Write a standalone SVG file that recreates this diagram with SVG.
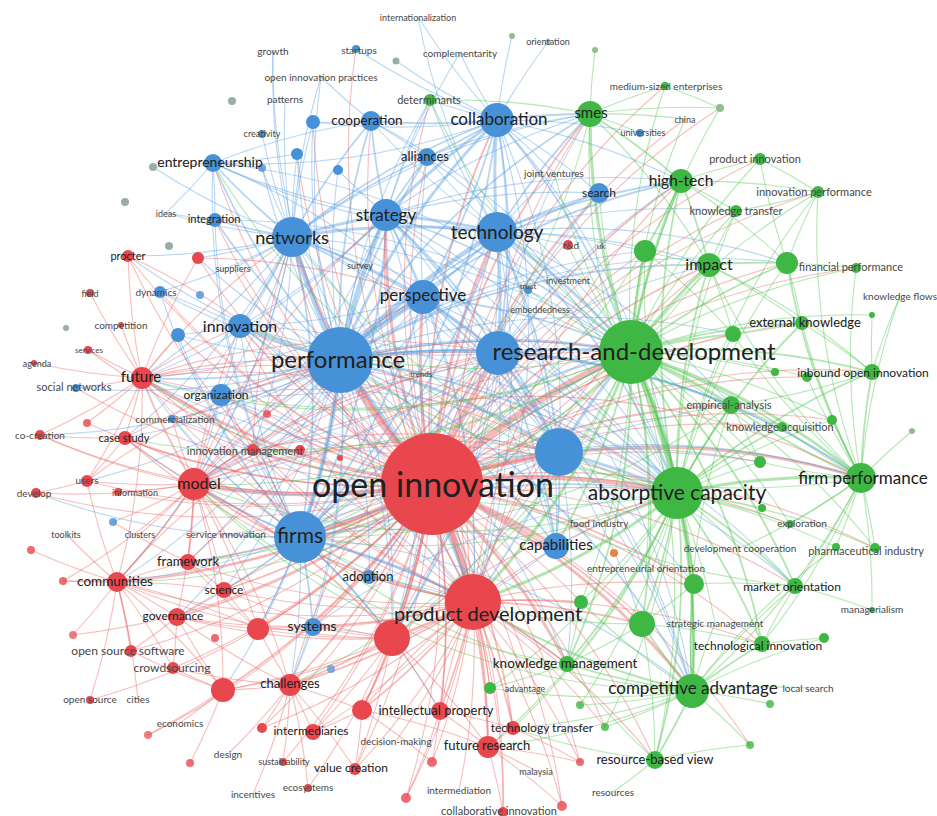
<svg xmlns="http://www.w3.org/2000/svg" width="937" height="816" viewBox="0 0 937 816">
<style>
.e path{fill:none;stroke-linecap:round}
.er path{stroke:#ec6262}
.eb path{stroke:#5a9fe0}
.eg path{stroke:#4fc44f}
.w5 path{stroke-width:6.5;stroke-opacity:.45}
.w4 path{stroke-width:4.5;stroke-opacity:.45}
.w3 path{stroke-width:3;stroke-opacity:.44}
.w2 path{stroke-width:1.8;stroke-opacity:.44}
.w1 path{stroke-width:1.1;stroke-opacity:.42}
.r{fill:#e8474e}
.b{fill:#4791d8}
.g{fill:#3fb744}
.o{fill:#e8843e}
.gy{fill:#9cabab}
.gg{fill:#8fbf8f}
text{font-family:Lato,"Open Sans","Liberation Sans",sans-serif;text-anchor:middle;fill:#202020}
.s{fill:#474747}
</style>
<rect width="937" height="816" fill="#ffffff"/>

<!-- links between keywords, drawn as gentle arcs, grouped by source colour and weight -->
<g id="connectors" class="e">
<!-- from open innovation -->
<g class="er w5"><path d="M432 484A700 700 0 0 1 340 360"/><path d="M432 484A700 700 0 0 1 473 602"/><path d="M432 484A700 700 0 0 1 631 352"/></g>
<g class="er w4"><path d="M432 484A700 700 0 0 1 300 537"/><path d="M432 484A700 700 0 0 1 677 493"/><path d="M432 484A700 700 0 0 1 498 353"/><path d="M432 484A700 700 0 0 1 559 452"/><path d="M432 484A700 700 0 0 1 194 484"/></g>
<g class="er w3"><path d="M432 484A700 700 0 0 1 292 237"/><path d="M432 484A700 700 0 0 1 386 215"/><path d="M432 484A700 700 0 0 1 497 232"/><path d="M432 484A700 700 0 0 1 423 297"/><path d="M432 484A700 700 0 0 1 392 638"/><path d="M432 484A700 700 0 0 1 556 546"/><path d="M432 484A700 700 0 0 1 142 378"/><path d="M432 484A700 700 0 0 1 692 691"/><path d="M432 484A700 700 0 0 1 567 664"/><path d="M432 484A700 700 0 0 1 861 478"/></g>
<g class="er w2"><path d="M432 484A700 700 0 0 1 497 120"/><path d="M432 484A700 700 0 0 1 240 326"/><path d="M432 484A700 700 0 0 1 221 395"/><path d="M432 484A700 700 0 0 1 681 181"/><path d="M432 484A700 700 0 0 1 709 265"/><path d="M432 484A700 700 0 0 1 590 114"/><path d="M432 484A700 700 0 0 1 290 685"/><path d="M432 484A700 700 0 0 1 440 711"/><path d="M432 484A700 700 0 0 1 362 710"/><path d="M432 484A700 700 0 0 1 488 747"/><path d="M432 484A700 700 0 0 1 513 728"/><path d="M432 484A700 700 0 0 1 117 582"/><path d="M432 484A700 700 0 0 1 177 617"/><path d="M432 484A700 700 0 0 1 224 590"/><path d="M432 484A700 700 0 0 1 188 562"/><path d="M432 484A700 700 0 0 1 258 629"/><path d="M432 484A700 700 0 0 1 223 690"/><path d="M432 484A700 700 0 0 1 313 627"/><path d="M432 484A700 700 0 0 1 369 577"/><path d="M432 484A700 700 0 0 1 642 624"/><path d="M432 484A700 700 0 0 1 694 584"/><path d="M432 484A700 700 0 0 1 731 405"/><path d="M432 484A700 700 0 0 1 253 450"/><path d="M432 484A700 700 0 0 1 125 438"/></g>
<g class="er w1"><path d="M432 484A700 700 0 0 1 87 481"/><path d="M432 484A700 700 0 0 1 40 435"/><path d="M432 484A700 700 0 0 1 36 493"/><path d="M432 484A700 700 0 0 1 128 256"/><path d="M432 484A700 700 0 0 1 198 258"/><path d="M432 484A700 700 0 0 1 213 163"/><path d="M432 484A700 700 0 0 1 371 121"/><path d="M432 484A700 700 0 0 1 427 157"/><path d="M432 484A700 700 0 0 1 599 193"/><path d="M432 484A700 700 0 0 1 872 372"/><path d="M432 484A700 700 0 0 1 802 323"/><path d="M432 484A700 700 0 0 1 795 586"/><path d="M432 484A700 700 0 0 1 655 760"/><path d="M432 484A700 700 0 0 1 762 644"/><path d="M432 484A700 700 0 0 1 355 769"/><path d="M432 484A700 700 0 0 1 313 732"/><path d="M432 484A700 700 0 0 1 173 668"/><path d="M432 484A700 700 0 0 1 131 651"/><path d="M432 484A700 700 0 0 1 503 812"/><path d="M432 484A700 700 0 0 1 562 806"/><path d="M432 484A700 700 0 0 1 406 798"/><path d="M432 484A700 700 0 0 1 432 762"/><path d="M432 484A700 700 0 0 1 215 220"/><path d="M432 484A700 700 0 0 1 160 292"/><path d="M432 484A700 700 0 0 1 178 335"/><path d="M432 484A700 700 0 0 1 787 263"/><path d="M432 484A700 700 0 0 1 645 251"/><path d="M432 484A700 700 0 0 1 733 334"/><path d="M432 484A700 700 0 0 1 782 427"/><path d="M432 484A700 700 0 0 1 760 462"/><path d="M432 484A700 700 0 0 1 581 602"/><path d="M432 484A700 700 0 0 1 118 492"/><path d="M432 484A700 700 0 0 1 88 350"/><path d="M432 484A700 700 0 0 1 76 388"/><path d="M432 484A700 700 0 0 1 172 419"/><path d="M432 484A700 700 0 0 1 313 122"/><path d="M432 484A700 700 0 0 1 297 154"/><path d="M432 484A700 700 0 0 1 87 423"/><path d="M432 484A700 700 0 0 1 63 581"/><path d="M432 484A700 700 0 0 1 73 635"/><path d="M432 484A700 700 0 0 1 90 700"/><path d="M432 484A700 700 0 0 1 148 735"/><path d="M432 484A700 700 0 0 1 262 728"/><path d="M432 484A700 700 0 0 1 283 762"/><path d="M432 484A700 700 0 0 1 308 788"/><path d="M432 484A700 700 0 0 1 580 762"/><path d="M432 484A700 700 0 0 1 490 688"/><path d="M432 484A700 700 0 0 1 605 727"/><path d="M432 484A700 700 0 0 1 750 745"/><path d="M432 484A700 700 0 0 1 875 548"/><path d="M432 484A700 700 0 0 1 790 524"/><path d="M432 484A700 700 0 0 1 832 420"/><path d="M432 484A700 700 0 0 1 807 377"/><path d="M432 484A700 700 0 0 1 760 159"/><path d="M432 484A700 700 0 0 1 736 211"/><path d="M432 484A700 700 0 0 1 818 192"/><path d="M432 484A700 700 0 0 1 720 108"/><path d="M432 484A700 700 0 0 1 665 86"/><path d="M432 484A700 700 0 0 1 430 100"/><path d="M432 484A700 700 0 0 1 356 49"/><path d="M432 484A700 700 0 0 1 856 268"/><path d="M432 484A700 700 0 0 1 233 268"/><path d="M432 484A700 700 0 0 1 421 373"/><path d="M432 484A700 700 0 0 1 685 119"/><path d="M432 484A700 700 0 0 1 599 523"/><path d="M432 484A700 700 0 0 1 525 688"/><path d="M432 484A700 700 0 0 1 226 534"/><path d="M432 484A700 700 0 0 1 267 414"/></g>

<!-- from performance -->
<g class="eb w4"><path d="M340 360A700 700 0 0 1 292 237"/><path d="M340 360A700 700 0 0 1 386 215"/><path d="M340 360A700 700 0 0 1 497 232"/><path d="M340 360A700 700 0 0 1 423 297"/><path d="M340 360A700 700 0 0 1 300 537"/></g>
<g class="eb w3"><path d="M340 360A700 700 0 0 1 497 120"/><path d="M340 360A700 700 0 0 1 498 353"/><path d="M340 360A700 700 0 0 1 631 352"/><path d="M340 360A700 700 0 0 1 559 452"/><path d="M340 360A700 700 0 0 1 473 602"/><path d="M340 360A700 700 0 0 1 240 326"/></g>
<g class="eb w2"><path d="M340 360A700 700 0 0 1 221 395"/><path d="M340 360A700 700 0 0 1 371 121"/><path d="M340 360A700 700 0 0 1 427 157"/><path d="M340 360A700 700 0 0 1 213 163"/><path d="M340 360A700 700 0 0 1 194 484"/><path d="M340 360A700 700 0 0 1 142 378"/><path d="M340 360A700 700 0 0 1 677 493"/><path d="M340 360A700 700 0 0 1 556 546"/><path d="M340 360A700 700 0 0 1 215 220"/><path d="M340 360A700 700 0 0 1 590 114"/><path d="M340 360A700 700 0 0 1 681 181"/><path d="M340 360A700 700 0 0 1 709 265"/><path d="M340 360A700 700 0 0 1 599 193"/><path d="M340 360A700 700 0 0 1 861 478"/><path d="M340 360A700 700 0 0 1 692 691"/></g>
<g class="eb w1"><path d="M340 360A700 700 0 0 1 297 154"/><path d="M340 360A700 700 0 0 1 313 122"/><path d="M340 360A700 700 0 0 1 338 170"/><path d="M340 360A700 700 0 0 1 160 292"/><path d="M340 360A700 700 0 0 1 128 256"/><path d="M340 360A700 700 0 0 1 198 258"/><path d="M340 360A700 700 0 0 1 313 627"/><path d="M340 360A700 700 0 0 1 369 577"/><path d="M340 360A700 700 0 0 1 178 335"/><path d="M340 360A700 700 0 0 1 172 419"/><path d="M340 360A700 700 0 0 1 76 388"/><path d="M340 360A700 700 0 0 1 188 562"/><path d="M340 360A700 700 0 0 1 224 590"/><path d="M340 360A700 700 0 0 1 567 664"/><path d="M340 360A700 700 0 0 1 731 405"/><path d="M340 360A700 700 0 0 1 645 251"/><path d="M340 360A700 700 0 0 1 787 263"/><path d="M340 360A700 700 0 0 1 253 450"/><path d="M340 360A700 700 0 0 1 125 438"/><path d="M340 360A700 700 0 0 1 262 168"/><path d="M340 360A700 700 0 0 1 392 638"/><path d="M340 360A700 700 0 0 1 430 100"/><path d="M340 360A700 700 0 0 1 733 334"/><path d="M340 360A700 700 0 0 1 273 51"/><path d="M340 360A700 700 0 0 1 321 77"/><path d="M340 360A700 700 0 0 1 360 265"/><path d="M340 360A700 700 0 0 1 421 373"/><path d="M340 360A700 700 0 0 1 795 586"/><path d="M340 360A700 700 0 0 1 117 582"/><path d="M340 360A700 700 0 0 1 177 617"/><path d="M340 360A700 700 0 0 1 258 629"/><path d="M340 360A700 700 0 0 1 223 690"/><path d="M340 360A700 700 0 0 1 290 685"/><path d="M340 360A700 700 0 0 1 87 481"/><path d="M340 360A700 700 0 0 1 40 435"/><path d="M340 360A700 700 0 0 1 267 414"/></g>

<!-- from networks, strategy, technology, collaboration -->
<g class="eb w3"><path d="M292 237A700 700 0 0 1 386 215"/><path d="M292 237A700 700 0 0 1 497 232"/><path d="M386 215A700 700 0 0 1 497 232"/><path d="M386 215A700 700 0 0 1 497 120"/><path d="M497 232A700 700 0 0 1 497 120"/><path d="M497 232A700 700 0 0 1 498 353"/><path d="M497 232A700 700 0 0 1 631 352"/></g>
<g class="eb w2"><path d="M292 237A700 700 0 0 1 497 120"/><path d="M292 237A700 700 0 0 1 423 297"/><path d="M292 237A700 700 0 0 1 213 163"/><path d="M292 237A700 700 0 0 1 371 121"/><path d="M292 237A700 700 0 0 1 427 157"/><path d="M292 237A700 700 0 0 1 498 353"/><path d="M292 237A700 700 0 0 1 300 537"/><path d="M292 237A700 700 0 0 1 240 326"/><path d="M292 237A700 700 0 0 1 215 220"/><path d="M386 215A700 700 0 0 1 423 297"/><path d="M386 215A700 700 0 0 1 427 157"/><path d="M386 215A700 700 0 0 1 371 121"/><path d="M386 215A700 700 0 0 1 498 353"/><path d="M386 215A700 700 0 0 1 631 352"/><path d="M386 215A700 700 0 0 1 300 537"/><path d="M386 215A700 700 0 0 1 559 452"/><path d="M497 232A700 700 0 0 1 423 297"/><path d="M497 232A700 700 0 0 1 590 114"/><path d="M497 232A700 700 0 0 1 599 193"/><path d="M497 232A700 700 0 0 1 681 181"/><path d="M497 232A700 700 0 0 1 559 452"/><path d="M497 232A700 700 0 0 1 677 493"/><path d="M497 232A700 700 0 0 1 300 537"/><path d="M497 120A700 700 0 0 1 590 114"/><path d="M497 120A700 700 0 0 1 371 121"/><path d="M497 120A700 700 0 0 1 427 157"/><path d="M497 120A700 700 0 0 1 498 353"/><path d="M497 120A700 700 0 0 1 631 352"/><path d="M497 120A700 700 0 0 1 423 297"/><path d="M497 120A700 700 0 0 1 300 537"/></g>
<g class="eb w1"><path d="M292 237A700 700 0 0 1 297 154"/><path d="M292 237A700 700 0 0 1 262 168"/><path d="M292 237A700 700 0 0 1 262 134"/><path d="M292 237A700 700 0 0 1 194 484"/><path d="M292 237A700 700 0 0 1 631 352"/><path d="M292 237A700 700 0 0 1 559 452"/><path d="M292 237A700 700 0 0 1 128 256"/><path d="M292 237A700 700 0 0 1 198 258"/><path d="M292 237A700 700 0 0 1 221 395"/><path d="M292 237A700 700 0 0 1 160 292"/><path d="M292 237A700 700 0 0 1 153 167"/><path d="M292 237A700 700 0 0 1 313 122"/><path d="M292 237A700 700 0 0 1 590 114"/><path d="M292 237A700 700 0 0 1 142 378"/><path d="M292 237A700 700 0 0 1 273 51"/><path d="M292 237A700 700 0 0 1 321 77"/><path d="M292 237A700 700 0 0 1 285 99"/><path d="M292 237A700 700 0 0 1 166 213"/><path d="M292 237A700 700 0 0 1 233 268"/><path d="M292 237A700 700 0 0 1 677 493"/><path d="M292 237A700 700 0 0 1 692 691"/><path d="M292 237A700 700 0 0 1 473 602"/><path d="M292 237A700 700 0 0 1 392 638"/><path d="M292 237A700 700 0 0 1 125 438"/><path d="M292 237A700 700 0 0 1 253 450"/><path d="M292 237A700 700 0 0 1 117 582"/><path d="M292 237A700 700 0 0 1 172 419"/><path d="M386 215A700 700 0 0 1 599 193"/><path d="M386 215A700 700 0 0 1 590 114"/><path d="M386 215A700 700 0 0 1 338 170"/><path d="M386 215A700 700 0 0 1 213 163"/><path d="M386 215A700 700 0 0 1 240 326"/><path d="M386 215A700 700 0 0 1 677 493"/><path d="M386 215A700 700 0 0 1 681 181"/><path d="M386 215A700 700 0 0 1 430 100"/><path d="M386 215A700 700 0 0 1 556 546"/><path d="M386 215A700 700 0 0 1 460 53"/><path d="M386 215A700 700 0 0 1 360 265"/><path d="M386 215A700 700 0 0 1 473 602"/><path d="M386 215A700 700 0 0 1 692 691"/><path d="M386 215A700 700 0 0 1 392 638"/><path d="M386 215A700 700 0 0 1 194 484"/><path d="M386 215A700 700 0 0 1 142 378"/><path d="M497 232A700 700 0 0 1 427 157"/><path d="M497 232A700 700 0 0 1 430 100"/><path d="M497 232A700 700 0 0 1 709 265"/><path d="M497 232A700 700 0 0 1 528 290"/><path d="M497 232A700 700 0 0 1 645 251"/><path d="M497 232A700 700 0 0 1 568 245"/><path d="M497 232A700 700 0 0 1 371 121"/><path d="M497 232A700 700 0 0 1 213 163"/><path d="M497 232A700 700 0 0 1 556 546"/><path d="M497 232A700 700 0 0 1 736 211"/><path d="M497 232A700 700 0 0 1 473 602"/><path d="M497 232A700 700 0 0 1 787 263"/><path d="M497 232A700 700 0 0 1 731 405"/><path d="M497 232A700 700 0 0 1 418 17"/><path d="M497 232A700 700 0 0 1 554 173"/><path d="M497 232A700 700 0 0 1 568 280"/><path d="M497 232A700 700 0 0 1 392 638"/><path d="M497 232A700 700 0 0 1 194 484"/><path d="M497 120A700 700 0 0 1 430 100"/><path d="M497 120A700 700 0 0 1 559 452"/><path d="M497 120A700 700 0 0 1 599 193"/><path d="M497 120A700 700 0 0 1 213 163"/><path d="M497 120A700 700 0 0 1 681 181"/><path d="M497 120A700 700 0 0 1 640 133"/><path d="M497 120A700 700 0 0 1 512 36"/><path d="M497 120A700 700 0 0 1 677 493"/><path d="M497 120A700 700 0 0 1 356 49"/><path d="M497 120A700 700 0 0 1 396 61"/><path d="M497 120A700 700 0 0 1 313 122"/><path d="M497 120A700 700 0 0 1 548 42"/><path d="M497 120A700 700 0 0 1 460 53"/><path d="M497 120A700 700 0 0 1 418 17"/><path d="M497 120A700 700 0 0 1 554 173"/><path d="M497 120A700 700 0 0 1 473 602"/><path d="M497 120A700 700 0 0 1 392 638"/></g>

<!-- from perspective and the unlabelled blue hubs -->
<g class="eb w3"><path d="M498 353A700 700 0 0 1 631 352"/><path d="M498 353A700 700 0 0 1 559 452"/><path d="M559 452A700 700 0 0 1 631 352"/><path d="M559 452A700 700 0 0 1 677 493"/><path d="M300 537A700 700 0 0 1 473 602"/></g>
<g class="eb w2"><path d="M423 297A700 700 0 0 1 498 353"/><path d="M423 297A700 700 0 0 1 559 452"/><path d="M423 297A700 700 0 0 1 300 537"/><path d="M423 297A700 700 0 0 1 631 352"/><path d="M498 353A700 700 0 0 1 300 537"/><path d="M498 353A700 700 0 0 1 677 493"/><path d="M498 353A700 700 0 0 1 556 546"/><path d="M559 452A700 700 0 0 1 300 537"/><path d="M559 452A700 700 0 0 1 473 602"/><path d="M559 452A700 700 0 0 1 556 546"/><path d="M300 537A700 700 0 0 1 392 638"/><path d="M300 537A700 700 0 0 1 194 484"/><path d="M300 537A700 700 0 0 1 313 627"/><path d="M300 537A700 700 0 0 1 677 493"/><path d="M300 537A700 700 0 0 1 631 352"/></g>
<g class="eb w1"><path d="M423 297A700 700 0 0 1 677 493"/><path d="M423 297A700 700 0 0 1 556 546"/><path d="M423 297A700 700 0 0 1 427 157"/><path d="M423 297A700 700 0 0 1 240 326"/><path d="M423 297A700 700 0 0 1 221 395"/><path d="M423 297A700 700 0 0 1 194 484"/><path d="M423 297A700 700 0 0 1 473 602"/><path d="M423 297A700 700 0 0 1 692 691"/><path d="M423 297A700 700 0 0 1 392 638"/><path d="M423 297A700 700 0 0 1 142 378"/><path d="M498 353A700 700 0 0 1 599 193"/><path d="M498 353A700 700 0 0 1 590 114"/><path d="M498 353A700 700 0 0 1 473 602"/><path d="M498 353A700 700 0 0 1 681 181"/><path d="M498 353A700 700 0 0 1 709 265"/><path d="M498 353A700 700 0 0 1 731 405"/><path d="M498 353A700 700 0 0 1 861 478"/><path d="M498 353A700 700 0 0 1 540 309"/><path d="M498 353A700 700 0 0 1 392 638"/><path d="M498 353A700 700 0 0 1 194 484"/><path d="M498 353A700 700 0 0 1 253 450"/><path d="M498 353A700 700 0 0 1 240 326"/><path d="M498 353A700 700 0 0 1 221 395"/><path d="M559 452A700 700 0 0 1 861 478"/><path d="M559 452A700 700 0 0 1 692 691"/><path d="M559 452A700 700 0 0 1 694 584"/><path d="M559 452A700 700 0 0 1 642 624"/><path d="M559 452A700 700 0 0 1 567 664"/><path d="M559 452A700 700 0 0 1 731 405"/><path d="M559 452A700 700 0 0 1 760 462"/><path d="M559 452A700 700 0 0 1 795 586"/><path d="M559 452A700 700 0 0 1 392 638"/><path d="M559 452A700 700 0 0 1 194 484"/><path d="M559 452A700 700 0 0 1 142 378"/><path d="M559 452A700 700 0 0 1 240 326"/><path d="M559 452A700 700 0 0 1 221 395"/><path d="M300 537A700 700 0 0 1 369 577"/><path d="M300 537A700 700 0 0 1 224 590"/><path d="M300 537A700 700 0 0 1 188 562"/><path d="M300 537A700 700 0 0 1 221 395"/><path d="M300 537A700 700 0 0 1 240 326"/><path d="M300 537A700 700 0 0 1 556 546"/><path d="M300 537A700 700 0 0 1 290 685"/><path d="M300 537A700 700 0 0 1 258 629"/><path d="M300 537A700 700 0 0 1 177 617"/><path d="M300 537A700 700 0 0 1 117 582"/><path d="M300 537A700 700 0 0 1 692 691"/><path d="M300 537A700 700 0 0 1 567 664"/><path d="M300 537A700 700 0 0 1 440 711"/><path d="M300 537A700 700 0 0 1 861 478"/><path d="M300 537A700 700 0 0 1 226 534"/><path d="M300 537A700 700 0 0 1 142 378"/><path d="M300 537A700 700 0 0 1 125 438"/><path d="M300 537A700 700 0 0 1 253 450"/><path d="M300 537A700 700 0 0 1 36 493"/><path d="M300 537A700 700 0 0 1 178 335"/><path d="M300 537A700 700 0 0 1 172 419"/><path d="M300 537A700 700 0 0 1 160 292"/><path d="M300 537A700 700 0 0 1 215 220"/><path d="M300 537A700 700 0 0 1 213 163"/><path d="M213 163A700 700 0 0 1 215 220"/><path d="M213 163A700 700 0 0 1 153 167"/><path d="M213 163A700 700 0 0 1 262 168"/><path d="M213 163A700 700 0 0 1 371 121"/><path d="M213 163A700 700 0 0 1 166 213"/><path d="M213 163A700 700 0 0 1 631 352"/><path d="M213 163A700 700 0 0 1 423 297"/><path d="M215 220A700 700 0 0 1 166 213"/><path d="M215 220A700 700 0 0 1 631 352"/><path d="M240 326A700 700 0 0 1 178 335"/><path d="M240 326A700 700 0 0 1 221 395"/><path d="M240 326A700 700 0 0 1 677 493"/><path d="M240 326A700 700 0 0 1 473 602"/><path d="M221 395A700 700 0 0 1 194 484"/><path d="M221 395A700 700 0 0 1 142 378"/><path d="M221 395A700 700 0 0 1 677 493"/><path d="M221 395A700 700 0 0 1 473 602"/><path d="M556 546A700 700 0 0 1 677 493"/><path d="M556 546A700 700 0 0 1 473 602"/><path d="M313 627A700 700 0 0 1 392 638"/><path d="M313 627A700 700 0 0 1 677 493"/><path d="M369 577A700 700 0 0 1 473 602"/><path d="M369 577A700 700 0 0 1 631 352"/><path d="M371 121A700 700 0 0 1 427 157"/><path d="M371 121A700 700 0 0 1 313 122"/><path d="M371 121A700 700 0 0 1 321 77"/><path d="M371 121A700 700 0 0 1 631 352"/><path d="M297 154A700 700 0 0 1 213 163"/><path d="M427 157A700 700 0 0 1 590 114"/><path d="M427 157A700 700 0 0 1 677 493"/><path d="M160 292A700 700 0 0 1 240 326"/><path d="M313 627A700 700 0 0 1 290 685"/><path d="M172 419A700 700 0 0 1 473 602"/></g>

<!-- from research-and-development -->
<g class="eg w5"><path d="M631 352A700 700 0 0 1 677 493"/></g>
<g class="eg w3"><path d="M631 352A700 700 0 0 1 681 181"/><path d="M631 352A700 700 0 0 1 709 265"/><path d="M631 352A700 700 0 0 1 590 114"/><path d="M631 352A700 700 0 0 1 645 251"/><path d="M631 352A700 700 0 0 1 731 405"/><path d="M631 352A700 700 0 0 1 861 478"/><path d="M631 352A700 700 0 0 1 473 602"/></g>
<g class="eg w2"><path d="M631 352A700 700 0 0 1 787 263"/><path d="M631 352A700 700 0 0 1 802 323"/><path d="M631 352A700 700 0 0 1 733 334"/><path d="M631 352A700 700 0 0 1 872 372"/><path d="M631 352A700 700 0 0 1 782 427"/><path d="M631 352A700 700 0 0 1 694 584"/><path d="M631 352A700 700 0 0 1 642 624"/><path d="M631 352A700 700 0 0 1 692 691"/><path d="M631 352A700 700 0 0 1 795 586"/><path d="M631 352A700 700 0 0 1 762 644"/><path d="M631 352A700 700 0 0 1 567 664"/><path d="M631 352A700 700 0 0 1 556 546"/></g>
<g class="eg w1"><path d="M631 352A700 700 0 0 1 760 462"/><path d="M631 352A700 700 0 0 1 760 159"/><path d="M631 352A700 700 0 0 1 818 192"/><path d="M631 352A700 700 0 0 1 736 211"/><path d="M631 352A700 700 0 0 1 581 602"/><path d="M631 352A700 700 0 0 1 790 524"/><path d="M631 352A700 700 0 0 1 875 548"/><path d="M631 352A700 700 0 0 1 599 193"/><path d="M631 352A700 700 0 0 1 430 100"/><path d="M631 352A700 700 0 0 1 832 420"/><path d="M631 352A700 700 0 0 1 807 377"/><path d="M631 352A700 700 0 0 1 872 315"/><path d="M631 352A700 700 0 0 1 665 86"/><path d="M631 352A700 700 0 0 1 720 108"/><path d="M631 352A700 700 0 0 1 568 245"/><path d="M631 352A700 700 0 0 1 528 290"/><path d="M631 352A700 700 0 0 1 194 484"/><path d="M631 352A700 700 0 0 1 142 378"/><path d="M631 352A700 700 0 0 1 240 326"/><path d="M631 352A700 700 0 0 1 221 395"/><path d="M631 352A700 700 0 0 1 392 638"/><path d="M631 352A700 700 0 0 1 655 760"/><path d="M631 352A700 700 0 0 1 856 268"/><path d="M631 352A700 700 0 0 1 775 372"/><path d="M631 352A700 700 0 0 1 554 173"/><path d="M631 352A700 700 0 0 1 568 280"/><path d="M631 352A700 700 0 0 1 540 309"/><path d="M631 352A700 700 0 0 1 685 119"/><path d="M631 352A700 700 0 0 1 646 568"/><path d="M631 352A700 700 0 0 1 117 582"/><path d="M631 352A700 700 0 0 1 188 562"/><path d="M631 352A700 700 0 0 1 290 685"/><path d="M631 352A700 700 0 0 1 253 450"/><path d="M631 352A700 700 0 0 1 125 438"/></g>

<!-- from absorptive capacity, firm performance, competitive advantage and the green periphery -->
<g class="eg w3"><path d="M677 493A700 700 0 0 1 861 478"/><path d="M677 493A700 700 0 0 1 692 691"/><path d="M677 493A700 700 0 0 1 473 602"/></g>
<g class="eg w2"><path d="M677 493A700 700 0 0 1 694 584"/><path d="M677 493A700 700 0 0 1 642 624"/><path d="M677 493A700 700 0 0 1 731 405"/><path d="M677 493A700 700 0 0 1 782 427"/><path d="M677 493A700 700 0 0 1 802 323"/><path d="M677 493A700 700 0 0 1 872 372"/><path d="M677 493A700 700 0 0 1 709 265"/><path d="M677 493A700 700 0 0 1 681 181"/><path d="M677 493A700 700 0 0 1 795 586"/><path d="M677 493A700 700 0 0 1 762 644"/><path d="M677 493A700 700 0 0 1 567 664"/><path d="M677 493A700 700 0 0 1 655 760"/><path d="M861 478A700 700 0 0 1 872 372"/><path d="M861 478A700 700 0 0 1 731 405"/><path d="M861 478A700 700 0 0 1 787 263"/><path d="M692 691A700 700 0 0 1 642 624"/><path d="M692 691A700 700 0 0 1 694 584"/><path d="M692 691A700 700 0 0 1 655 760"/><path d="M692 691A700 700 0 0 1 762 644"/><path d="M692 691A700 700 0 0 1 567 664"/><path d="M692 691A700 700 0 0 1 473 602"/><path d="M590 114A700 700 0 0 1 681 181"/><path d="M681 181A700 700 0 0 1 709 265"/><path d="M709 265A700 700 0 0 1 787 263"/></g>
<g class="eg w1"><path d="M677 493A700 700 0 0 1 790 524"/><path d="M677 493A700 700 0 0 1 875 548"/><path d="M677 493A700 700 0 0 1 760 462"/><path d="M677 493A700 700 0 0 1 762 508"/><path d="M677 493A700 700 0 0 1 581 602"/><path d="M677 493A700 700 0 0 1 787 263"/><path d="M677 493A700 700 0 0 1 645 251"/><path d="M677 493A700 700 0 0 1 590 114"/><path d="M677 493A700 700 0 0 1 733 334"/><path d="M677 493A700 700 0 0 1 832 420"/><path d="M677 493A700 700 0 0 1 490 688"/><path d="M677 493A700 700 0 0 1 513 728"/><path d="M677 493A700 700 0 0 1 488 747"/><path d="M677 493A700 700 0 0 1 605 727"/><path d="M677 493A700 700 0 0 1 580 705"/><path d="M677 493A700 700 0 0 1 736 211"/><path d="M677 493A700 700 0 0 1 818 192"/><path d="M677 493A700 700 0 0 1 836 547"/><path d="M677 493A700 700 0 0 1 300 537"/><path d="M677 493A700 700 0 0 1 599 523"/><path d="M677 493A700 700 0 0 1 740 548"/><path d="M677 493A700 700 0 0 1 646 568"/><path d="M677 493A700 700 0 0 1 715 623"/><path d="M677 493A700 700 0 0 1 194 484"/><path d="M677 493A700 700 0 0 1 292 237"/><path d="M677 493A700 700 0 0 1 142 378"/><path d="M677 493A700 700 0 0 1 213 163"/><path d="M861 478A700 700 0 0 1 832 420"/><path d="M861 478A700 700 0 0 1 912 431"/><path d="M861 478A700 700 0 0 1 802 323"/><path d="M861 478A700 700 0 0 1 795 586"/><path d="M861 478A700 700 0 0 1 875 548"/><path d="M861 478A700 700 0 0 1 762 644"/><path d="M861 478A700 700 0 0 1 692 691"/><path d="M861 478A700 700 0 0 1 760 462"/><path d="M861 478A700 700 0 0 1 790 524"/><path d="M861 478A700 700 0 0 1 709 265"/><path d="M861 478A700 700 0 0 1 807 377"/><path d="M861 478A700 700 0 0 1 818 192"/><path d="M861 478A700 700 0 0 1 782 427"/><path d="M861 478A700 700 0 0 1 872 610"/><path d="M861 478A700 700 0 0 1 836 547"/><path d="M861 478A700 700 0 0 1 733 334"/><path d="M861 478A700 700 0 0 1 856 268"/><path d="M861 478A700 700 0 0 1 900 296"/><path d="M861 478A700 700 0 0 1 740 548"/><path d="M861 478A700 700 0 0 1 340 360"/><path d="M692 691A700 700 0 0 1 795 586"/><path d="M692 691A700 700 0 0 1 581 602"/><path d="M692 691A700 700 0 0 1 490 688"/><path d="M692 691A700 700 0 0 1 580 705"/><path d="M692 691A700 700 0 0 1 605 727"/><path d="M692 691A700 700 0 0 1 750 745"/><path d="M692 691A700 700 0 0 1 770 704"/><path d="M692 691A700 700 0 0 1 824 638"/><path d="M692 691A700 700 0 0 1 836 547"/><path d="M692 691A700 700 0 0 1 513 728"/><path d="M692 691A700 700 0 0 1 488 747"/><path d="M692 691A700 700 0 0 1 731 405"/><path d="M692 691A700 700 0 0 1 715 623"/><path d="M692 691A700 700 0 0 1 808 688"/><path d="M692 691A700 700 0 0 1 300 537"/><path d="M692 691A700 700 0 0 1 194 484"/><path d="M590 114A700 700 0 0 1 665 86"/><path d="M590 114A700 700 0 0 1 640 133"/><path d="M590 114A700 700 0 0 1 709 265"/><path d="M590 114A700 700 0 0 1 720 108"/><path d="M590 114A700 700 0 0 1 595 50"/><path d="M590 114A700 700 0 0 1 685 119"/><path d="M590 114A700 700 0 0 1 300 537"/><path d="M681 181A700 700 0 0 1 760 159"/><path d="M681 181A700 700 0 0 1 736 211"/><path d="M681 181A700 700 0 0 1 645 251"/><path d="M681 181A700 700 0 0 1 818 192"/><path d="M681 181A700 700 0 0 1 787 263"/><path d="M681 181A700 700 0 0 1 300 537"/><path d="M709 265A700 700 0 0 1 645 251"/><path d="M709 265A700 700 0 0 1 736 211"/><path d="M709 265A700 700 0 0 1 802 323"/><path d="M709 265A700 700 0 0 1 733 334"/><path d="M709 265A700 700 0 0 1 872 372"/><path d="M709 265A700 700 0 0 1 300 537"/><path d="M787 263A700 700 0 0 1 856 268"/><path d="M787 263A700 700 0 0 1 818 192"/><path d="M787 263A700 700 0 0 1 760 159"/><path d="M787 263A700 700 0 0 1 802 323"/><path d="M802 323A700 700 0 0 1 733 334"/><path d="M802 323A700 700 0 0 1 872 372"/><path d="M872 372A700 700 0 0 1 807 377"/><path d="M872 372A700 700 0 0 1 872 315"/><path d="M872 372A700 700 0 0 1 731 405"/><path d="M872 372A700 700 0 0 1 900 296"/><path d="M731 405A700 700 0 0 1 782 427"/><path d="M731 405A700 700 0 0 1 760 462"/><path d="M731 405A700 700 0 0 1 300 537"/><path d="M694 584A700 700 0 0 1 642 624"/><path d="M694 584A700 700 0 0 1 795 586"/><path d="M642 624A700 700 0 0 1 567 664"/><path d="M642 624A700 700 0 0 1 762 644"/><path d="M642 624A700 700 0 0 1 655 760"/><path d="M642 624A700 700 0 0 1 300 537"/><path d="M762 644A700 700 0 0 1 795 586"/><path d="M762 644A700 700 0 0 1 824 638"/><path d="M655 760A700 700 0 0 1 750 745"/><path d="M655 760A700 700 0 0 1 513 728"/><path d="M655 760A700 700 0 0 1 567 664"/><path d="M655 760A700 700 0 0 1 613 792"/><path d="M567 664A700 700 0 0 1 490 688"/><path d="M567 664A700 700 0 0 1 194 484"/><path d="M581 602A700 700 0 0 1 567 664"/><path d="M795 586A700 700 0 0 1 872 610"/><path d="M795 586A700 700 0 0 1 340 360"/><path d="M645 251A700 700 0 0 1 733 334"/><path d="M430 100A700 700 0 0 1 590 114"/><path d="M665 86A700 700 0 0 1 720 108"/><path d="M760 159A700 700 0 0 1 818 192"/><path d="M818 192A700 700 0 0 1 736 211"/></g>

<!-- from product development and the red periphery -->
<g class="er w3"><path d="M473 602A700 700 0 0 1 392 638"/></g>
<g class="er w2"><path d="M473 602A700 700 0 0 1 194 484"/><path d="M473 602A700 700 0 0 1 290 685"/><path d="M473 602A700 700 0 0 1 362 710"/><path d="M473 602A700 700 0 0 1 440 711"/><path d="M473 602A700 700 0 0 1 488 747"/><path d="M473 602A700 700 0 0 1 513 728"/><path d="M473 602A700 700 0 0 1 567 664"/><path d="M473 602A700 700 0 0 1 642 624"/><path d="M473 602A700 700 0 0 1 581 602"/><path d="M194 484A700 700 0 0 1 142 378"/><path d="M194 484A700 700 0 0 1 117 582"/><path d="M194 484A700 700 0 0 1 188 562"/><path d="M194 484A700 700 0 0 1 392 638"/><path d="M392 638A700 700 0 0 1 290 685"/><path d="M392 638A700 700 0 0 1 362 710"/><path d="M117 582A700 700 0 0 1 131 651"/></g>
<g class="er w1"><path d="M473 602A700 700 0 0 1 355 769"/><path d="M473 602A700 700 0 0 1 258 629"/><path d="M473 602A700 700 0 0 1 117 582"/><path d="M473 602A700 700 0 0 1 177 617"/><path d="M473 602A700 700 0 0 1 224 590"/><path d="M473 602A700 700 0 0 1 313 732"/><path d="M473 602A700 700 0 0 1 223 690"/><path d="M473 602A700 700 0 0 1 432 762"/><path d="M473 602A700 700 0 0 1 406 798"/><path d="M473 602A700 700 0 0 1 503 812"/><path d="M473 602A700 700 0 0 1 562 806"/><path d="M473 602A700 700 0 0 1 580 762"/><path d="M473 602A700 700 0 0 1 490 688"/><path d="M473 602A700 700 0 0 1 188 562"/><path d="M473 602A700 700 0 0 1 694 584"/><path d="M473 602A700 700 0 0 1 762 644"/><path d="M473 602A700 700 0 0 1 655 760"/><path d="M473 602A700 700 0 0 1 605 727"/><path d="M473 602A700 700 0 0 1 262 728"/><path d="M473 602A700 700 0 0 1 313 627"/><path d="M473 602A700 700 0 0 1 369 577"/><path d="M473 602A700 700 0 0 1 709 265"/><path d="M473 602A700 700 0 0 1 681 181"/><path d="M473 602A700 700 0 0 1 590 114"/><path d="M473 602A700 700 0 0 1 497 232"/><path d="M473 602A700 700 0 0 1 292 237"/><path d="M473 602A700 700 0 0 1 386 215"/><path d="M473 602A700 700 0 0 1 240 326"/><path d="M473 602A700 700 0 0 1 142 378"/><path d="M473 602A700 700 0 0 1 128 256"/><path d="M473 602A700 700 0 0 1 459 790"/><path d="M473 602A700 700 0 0 1 396 741"/><path d="M473 602A700 700 0 0 1 125 438"/><path d="M473 602A700 700 0 0 1 253 450"/><path d="M194 484A700 700 0 0 1 125 438"/><path d="M194 484A700 700 0 0 1 87 481"/><path d="M194 484A700 700 0 0 1 118 492"/><path d="M194 484A700 700 0 0 1 224 590"/><path d="M194 484A700 700 0 0 1 177 617"/><path d="M194 484A700 700 0 0 1 253 450"/><path d="M194 484A700 700 0 0 1 221 395"/><path d="M194 484A700 700 0 0 1 258 629"/><path d="M194 484A700 700 0 0 1 223 690"/><path d="M194 484A700 700 0 0 1 36 493"/><path d="M194 484A700 700 0 0 1 40 435"/><path d="M194 484A700 700 0 0 1 113 522"/><path d="M194 484A700 700 0 0 1 63 581"/><path d="M194 484A700 700 0 0 1 290 685"/><path d="M194 484A700 700 0 0 1 172 419"/><path d="M194 484A700 700 0 0 1 677 493"/><path d="M194 484A700 700 0 0 1 631 352"/><path d="M194 484A700 700 0 0 1 861 478"/><path d="M194 484A700 700 0 0 1 140 534"/><path d="M194 484A700 700 0 0 1 386 215"/><path d="M194 484A700 700 0 0 1 423 297"/><path d="M194 484A700 700 0 0 1 498 353"/><path d="M194 484A700 700 0 0 1 559 452"/><path d="M194 484A700 700 0 0 1 240 326"/><path d="M194 484A700 700 0 0 1 267 414"/><path d="M142 378A700 700 0 0 1 128 256"/><path d="M142 378A700 700 0 0 1 90 293"/><path d="M142 378A700 700 0 0 1 88 350"/><path d="M142 378A700 700 0 0 1 76 388"/><path d="M142 378A700 700 0 0 1 34 363"/><path d="M142 378A700 700 0 0 1 40 435"/><path d="M142 378A700 700 0 0 1 125 438"/><path d="M142 378A700 700 0 0 1 221 395"/><path d="M142 378A700 700 0 0 1 240 326"/><path d="M142 378A700 700 0 0 1 117 582"/><path d="M142 378A700 700 0 0 1 87 481"/><path d="M142 378A700 700 0 0 1 198 258"/><path d="M142 378A700 700 0 0 1 87 423"/><path d="M142 378A700 700 0 0 1 253 450"/><path d="M142 378A700 700 0 0 1 178 335"/><path d="M142 378A700 700 0 0 1 121 325"/><path d="M142 378A700 700 0 0 1 677 493"/><path d="M142 378A700 700 0 0 1 300 537"/><path d="M142 378A700 700 0 0 1 340 360"/><path d="M142 378A700 700 0 0 1 292 237"/><path d="M142 378A700 700 0 0 1 498 353"/><path d="M142 378A700 700 0 0 1 559 452"/><path d="M392 638A700 700 0 0 1 258 629"/><path d="M392 638A700 700 0 0 1 223 690"/><path d="M392 638A700 700 0 0 1 313 627"/><path d="M392 638A700 700 0 0 1 355 769"/><path d="M392 638A700 700 0 0 1 313 732"/><path d="M392 638A700 700 0 0 1 440 711"/><path d="M392 638A700 700 0 0 1 488 747"/><path d="M392 638A700 700 0 0 1 177 617"/><path d="M392 638A700 700 0 0 1 224 590"/><path d="M392 638A700 700 0 0 1 117 582"/><path d="M392 638A700 700 0 0 1 631 352"/><path d="M392 638A700 700 0 0 1 677 493"/><path d="M117 582A700 700 0 0 1 173 668"/><path d="M117 582A700 700 0 0 1 63 581"/><path d="M117 582A700 700 0 0 1 73 635"/><path d="M117 582A700 700 0 0 1 87 481"/><path d="M117 582A700 700 0 0 1 177 617"/><path d="M117 582A700 700 0 0 1 188 562"/><path d="M117 582A700 700 0 0 1 31 550"/><path d="M117 582A700 700 0 0 1 223 690"/><path d="M117 582A700 700 0 0 1 90 700"/><path d="M117 582A700 700 0 0 1 224 590"/><path d="M117 582A700 700 0 0 1 258 629"/><path d="M117 582A700 700 0 0 1 66 534"/><path d="M117 582A700 700 0 0 1 138 700"/><path d="M117 582A700 700 0 0 1 498 353"/><path d="M290 685A700 700 0 0 1 223 690"/><path d="M290 685A700 700 0 0 1 313 732"/><path d="M290 685A700 700 0 0 1 355 769"/><path d="M290 685A700 700 0 0 1 177 617"/><path d="M290 685A700 700 0 0 1 258 629"/><path d="M290 685A700 700 0 0 1 362 710"/><path d="M290 685A700 700 0 0 1 262 728"/><path d="M290 685A700 700 0 0 1 283 762"/><path d="M290 685A700 700 0 0 1 308 788"/><path d="M290 685A700 700 0 0 1 173 668"/><path d="M290 685A700 700 0 0 1 228 754"/><path d="M290 685A700 700 0 0 1 253 794"/><path d="M290 685A700 700 0 0 1 498 353"/><path d="M223 690A700 700 0 0 1 131 651"/><path d="M223 690A700 700 0 0 1 173 668"/><path d="M223 690A700 700 0 0 1 148 735"/><path d="M223 690A700 700 0 0 1 190 763"/><path d="M223 690A700 700 0 0 1 177 617"/><path d="M223 690A700 700 0 0 1 180 723"/><path d="M362 710A700 700 0 0 1 488 747"/><path d="M362 710A700 700 0 0 1 355 769"/><path d="M362 710A700 700 0 0 1 313 732"/><path d="M362 710A700 700 0 0 1 432 762"/><path d="M362 710A700 700 0 0 1 677 493"/><path d="M440 711A700 700 0 0 1 488 747"/><path d="M440 711A700 700 0 0 1 513 728"/><path d="M440 711A700 700 0 0 1 406 798"/><path d="M440 711A700 700 0 0 1 631 352"/><path d="M488 747A700 700 0 0 1 513 728"/><path d="M488 747A700 700 0 0 1 503 812"/><path d="M488 747A700 700 0 0 1 562 806"/><path d="M488 747A700 700 0 0 1 580 762"/><path d="M488 747A700 700 0 0 1 536 771"/><path d="M513 728A700 700 0 0 1 580 762"/><path d="M258 629A700 700 0 0 1 224 590"/><path d="M258 629A700 700 0 0 1 177 617"/><path d="M258 629A700 700 0 0 1 188 562"/><path d="M258 629A700 700 0 0 1 313 627"/><path d="M177 617A700 700 0 0 1 131 651"/><path d="M177 617A700 700 0 0 1 173 668"/><path d="M177 617A700 700 0 0 1 224 590"/><path d="M188 562A700 700 0 0 1 224 590"/><path d="M188 562A700 700 0 0 1 113 522"/><path d="M188 562A700 700 0 0 1 631 352"/><path d="M224 590A700 700 0 0 1 677 493"/><path d="M125 438A700 700 0 0 1 40 435"/><path d="M125 438A700 700 0 0 1 87 481"/><path d="M125 438A700 700 0 0 1 300 537"/><path d="M125 438A700 700 0 0 1 498 353"/><path d="M87 481A700 700 0 0 1 36 493"/><path d="M87 481A700 700 0 0 1 631 352"/><path d="M253 450A700 700 0 0 1 300 450"/><path d="M253 450A700 700 0 0 1 221 395"/><path d="M253 450A700 700 0 0 1 300 537"/><path d="M253 450A700 700 0 0 1 559 452"/><path d="M253 450A700 700 0 0 1 292 237"/><path d="M267 414A700 700 0 0 1 340 360"/><path d="M198 258A700 700 0 0 1 423 297"/><path d="M128 256A700 700 0 0 1 473 602"/></g>
</g>

<!-- keywords without a printed label -->
<g id="n-u01"><circle class="b" cx="498" cy="353" r="22"/></g>
<g id="n-u02"><circle class="b" cx="559" cy="452" r="24"/></g>
<g id="n-u03"><circle class="r" cx="392" cy="638" r="18"/></g>
<g id="n-u04"><circle class="r" cx="362" cy="710" r="10"/></g>
<g id="n-u05"><circle class="g" cx="645" cy="251" r="11"/></g>
<g id="n-u06"><circle class="g" cx="787" cy="263" r="11"/></g>
<g id="n-u07"><circle class="g" cx="733" cy="334" r="8"/></g>
<g id="n-u08"><circle class="g" cx="760" cy="462" r="6"/></g>
<g id="n-u09"><circle class="g" cx="694" cy="584" r="10"/></g>
<g id="n-u10"><circle class="g" cx="642" cy="624" r="13"/></g>
<g id="n-u11"><circle class="g" cx="581" cy="602" r="7"/></g>
<g id="n-u12"><circle class="r" cx="223" cy="690" r="12"/></g>
<g id="n-u13"><circle class="r" cx="258" cy="629" r="11"/></g>
<g id="n-u14"><circle class="b" cx="178" cy="335" r="7"/></g>
<g id="n-u15"><circle class="b" cx="313" cy="122" r="7"/></g>
<g id="n-u16"><circle class="b" cx="297" cy="154" r="6"/></g>
<g id="n-u17"><circle class="b" cx="338" cy="170" r="5"/></g>
<g id="n-u18"><circle class="b" cx="262" cy="168" r="4" opacity=".8"/></g>
<g id="n-u19"><circle class="gy" cx="153" cy="167" r="4"/></g>
<g id="n-u20"><circle class="gy" cx="125" cy="202" r="4"/></g>
<g id="n-u21"><circle class="gy" cx="232" cy="101" r="4"/></g>
<g id="n-u22"><circle class="gy" cx="396" cy="61" r="3.5"/></g>
<g id="n-u23"><circle class="gg" cx="512" cy="36" r="3"/></g>
<g id="n-u24"><circle class="gg" cx="595" cy="50" r="3"/></g>
<g id="n-u25"><circle class="gg" cx="720" cy="108" r="4"/></g>
<g id="n-u26"><circle class="g" cx="872" cy="315" r="3"/></g>
<g id="n-u27"><circle class="g" cx="807" cy="377" r="5"/></g>
<g id="n-u28"><circle class="g" cx="775" cy="372" r="4"/></g>
<g id="n-u29"><circle class="g" cx="832" cy="420" r="5"/></g>
<g id="n-u30"><circle class="gg" cx="912" cy="431" r="3"/></g>
<g id="n-u31"><circle class="g" cx="762" cy="508" r="4"/></g>
<g id="n-u32"><circle class="g" cx="836" cy="547" r="4"/></g>
<g id="n-u33"><circle class="g" cx="824" cy="638" r="5"/></g>
<g id="n-u34"><circle class="g" cx="770" cy="704" r="4" opacity=".8"/></g>
<g id="n-u35"><circle class="g" cx="580" cy="705" r="4" opacity=".8"/></g>
<g id="n-u36"><circle class="g" cx="605" cy="727" r="4" opacity=".8"/></g>
<g id="n-u37"><circle class="g" cx="750" cy="745" r="4" opacity=".8"/></g>
<g id="n-u38"><circle class="g" cx="490" cy="688" r="6"/></g>
<g id="n-u39"><circle class="r" cx="580" cy="762" r="4" opacity=".8"/></g>
<g id="n-u40"><circle class="r" cx="562" cy="806" r="5" opacity=".8"/></g>
<g id="n-u41"><circle class="r" cx="432" cy="762" r="5" opacity=".8"/></g>
<g id="n-u42"><circle class="r" cx="406" cy="798" r="5" opacity=".8"/></g>
<g id="n-u43"><circle class="r" cx="262" cy="728" r="5"/></g>
<g id="n-u44"><circle class="r" cx="190" cy="763" r="4" opacity=".8"/></g>
<g id="n-u45"><circle class="r" cx="148" cy="735" r="4" opacity=".7"/></g>
<g id="n-u46"><circle class="r" cx="73" cy="635" r="4" opacity=".7"/></g>
<g id="n-u47"><circle class="r" cx="63" cy="581" r="4" opacity=".8"/></g>
<g id="n-u48"><circle class="r" cx="31" cy="550" r="4" opacity=".8"/></g>
<g id="n-u49"><circle class="b" cx="113" cy="522" r="4" opacity=".8"/></g>
<g id="n-u50"><circle class="r" cx="87" cy="423" r="4" opacity=".8"/></g>
<g id="n-u51"><circle class="r" cx="267" cy="414" r="4" opacity=".8"/></g>
<g id="n-u52"><circle class="r" cx="340" cy="458" r="3"/></g>
<g id="n-u53"><circle class="r" cx="300" cy="450" r="5"/></g>
<g id="n-u54"><circle class="b" cx="200" cy="295" r="4" opacity=".8"/></g>
<g id="n-u55"><circle class="gy" cx="66" cy="328" r="3"/></g>
<g id="n-u56"><circle class="r" cx="215" cy="638" r="4" opacity=".8"/></g>
<g id="n-u57"><circle class="r" cx="198" cy="258" r="6"/></g>
<g id="n-u58"><circle class="gy" cx="169" cy="246" r="4"/></g>
<g id="n-u59"><circle class="o" cx="614" cy="553" r="4"/></g>
<g id="n-u60"><circle class="b" cx="331" cy="669" r="4" opacity=".7"/></g>

<!-- labelled keywords, largest first -->
<g id="n-open-innovation"><circle class="r" cx="432" cy="484" r="51"/><text x="433" y="497" font-size="34">open innovation</text></g>
<g id="n-performance"><circle class="b" cx="340" cy="360" r="33"/><text x="338" y="368" font-size="24">performance</text></g>
<g id="n-research-and-development"><circle class="g" cx="631" cy="352" r="32"/><text x="634" y="360" font-size="24">research-and-development</text></g>
<g id="n-product-development"><circle class="r" cx="473" cy="602" r="28"/><text x="488" y="621" font-size="20">product development</text></g>
<g id="n-absorptive-capacity"><circle class="g" cx="677" cy="493" r="26"/><text x="677" y="500" font-size="21">absorptive capacity</text></g>
<g id="n-firms"><circle class="b" cx="300" cy="537" r="26"/><text x="300" y="543" font-size="21">firms</text></g>
<g id="n-networks"><circle class="b" cx="292" cy="237" r="20"/><text x="292" y="244" font-size="18">networks</text></g>
<g id="n-technology"><circle class="b" cx="497" cy="232" r="20"/><text x="497" y="239" font-size="19">technology</text></g>
<g id="n-perspective"><circle class="b" cx="423" cy="297" r="17"/><text x="423" y="301" font-size="17">perspective</text></g>
<g id="n-collaboration"><circle class="b" cx="497" cy="120" r="17"/><text x="499" y="125" font-size="17">collaboration</text></g>
<g id="n-competitive-advantage"><circle class="g" cx="692" cy="691" r="17"/><text x="693" y="694" font-size="17">competitive advantage</text></g>
<g id="n-strategy"><circle class="b" cx="386" cy="215" r="16"/><text x="386" y="221" font-size="17">strategy</text></g>
<g id="n-model"><circle class="r" cx="194" cy="484" r="16"/><text x="199" y="489" font-size="16">model</text></g>
<g id="n-firm-performance"><circle class="g" cx="861" cy="478" r="15"/><text x="863" y="484" font-size="17">firm performance</text></g>
<g id="n-capabilities"><circle class="b" cx="556" cy="546" r="13"/><text x="556" y="550" font-size="15">capabilities</text></g>
<g id="n-smes"><circle class="g" cx="590" cy="114" r="13"/><text x="591" y="118" font-size="15">smes</text></g>
<g id="n-innovation"><circle class="b" cx="240" cy="326" r="12"/><text x="240" y="332" font-size="16">innovation</text></g>
<g id="n-high-tech"><circle class="g" cx="681" cy="181" r="12"/><text x="681" y="186" font-size="15.5">high-tech</text></g>
<g id="n-impact"><circle class="g" cx="709" cy="265" r="12"/><text x="709" y="270" font-size="16">impact</text></g>
<g id="n-future"><circle class="r" cx="142" cy="378" r="11"/><text x="141" y="382" font-size="15">future</text></g>
<g id="n-organization"><circle class="b" cx="221" cy="395" r="11"/><text x="216" y="399" font-size="12">organization</text></g>
<g id="n-challenges"><circle class="r" cx="290" cy="685" r="11"/><text x="290" y="688" font-size="13">challenges</text></g>
<g id="n-future-research"><circle class="r" cx="488" cy="747" r="11"/><text x="487" y="750" font-size="13">future research</text></g>
<g id="n-cooperation"><circle class="b" cx="371" cy="121" r="10"/><text x="367" y="125" font-size="13.5">cooperation</text></g>
<g id="n-communities"><circle class="r" cx="117" cy="582" r="10"/><text x="115" y="586" font-size="13.5">communities</text></g>
<g id="n-search"><circle class="b" cx="599" cy="193" r="10"/><text x="599" y="197" font-size="12">search</text></g>
<g id="n-intellectual-property"><circle class="r" cx="440" cy="711" r="9"/><text x="436" y="715" font-size="13">intellectual property</text></g>
<g id="n-entrepreneurship"><circle class="b" cx="213" cy="163" r="9"/><text x="210" y="167" font-size="14">entrepreneurship</text></g>
<g id="n-alliances"><circle class="b" cx="427" cy="157" r="9"/><text x="425" y="161" font-size="13">alliances</text></g>
<g id="n-empirical-analysis"><circle class="g" cx="731" cy="405" r="9"/><text class="s" x="729" y="409" font-size="11">empirical-analysis</text></g>
<g id="n-governance"><circle class="r" cx="177" cy="617" r="9"/><text x="173" y="620" font-size="12">governance</text></g>
<g id="n-systems"><circle class="b" cx="313" cy="627" r="9"/><text x="312" y="631" font-size="14">systems</text></g>
<g id="n-resource-based-view"><circle class="g" cx="655" cy="760" r="9"/><text x="655" y="764" font-size="13">resource-based view</text></g>
<g id="n-framework"><circle class="r" cx="188" cy="562" r="8"/><text x="188" y="566" font-size="13">framework</text></g>
<g id="n-science"><circle class="r" cx="224" cy="590" r="8"/><text x="224" y="594" font-size="12">science</text></g>
<g id="n-knowledge-management"><circle class="g" cx="567" cy="664" r="8"/><text x="565" y="668" font-size="13.5">knowledge management</text></g>
<g id="n-market-orientation"><circle class="g" cx="795" cy="586" r="8"/><text x="792" y="591" font-size="12">market orientation</text></g>
<g id="n-technological-innovation"><circle class="g" cx="762" cy="644" r="8"/><text x="758" y="650" font-size="12">technological innovation</text></g>
<g id="n-inbound-open-innovation"><circle class="g" cx="872" cy="372" r="8"/><text x="863" y="377" font-size="12">inbound open innovation</text></g>
<g id="n-intermediaries"><circle class="r" cx="313" cy="732" r="8"/><text x="311" y="735" font-size="12">intermediaries</text></g>
<g id="n-external-knowledge"><circle class="g" cx="802" cy="323" r="7"/><text x="805" y="327" font-size="13">external knowledge</text></g>
<g id="n-integration"><circle class="b" cx="215" cy="220" r="7"/><text x="214" y="223" font-size="11">integration</text></g>
<g id="n-technology-transfer"><circle class="r" cx="513" cy="728" r="7"/><text x="542" y="732" font-size="12">technology transfer</text></g>
<g id="n-case-study"><circle class="r" cx="125" cy="438" r="7"/><text x="124" y="442" font-size="11">case study</text></g>
<g id="n-adoption"><circle class="b" cx="369" cy="577" r="7"/><text x="368" y="581" font-size="13">adoption</text></g>
<g id="n-value-creation"><circle class="r" cx="355" cy="769" r="6"/><text x="351" y="772" font-size="12">value creation</text></g>
<g id="n-procter"><circle class="r" cx="128" cy="256" r="6"/><text x="128" y="260" font-size="11">procter</text></g>
<g id="n-product-innovation"><circle class="g" cx="760" cy="159" r="6"/><text class="s" x="755" y="163" font-size="11">product innovation</text></g>
<g id="n-innovation-performance"><circle class="g" cx="818" cy="192" r="6"/><text class="s" x="814" y="196" font-size="11">innovation performance</text></g>
<g id="n-knowledge-transfer"><circle class="g" cx="736" cy="211" r="6"/><text class="s" x="736" y="215" font-size="11">knowledge transfer</text></g>
<g id="n-users"><circle class="r" cx="87" cy="481" r="6"/><text class="s" x="87" y="484" font-size="10">users</text></g>
<g id="n-determinants"><circle class="g" cx="430" cy="100" r="6"/><text class="s" x="429" y="104" font-size="11">determinants</text></g>
<g id="n-open-source-software"><circle class="r" cx="131" cy="651" r="6"/><text class="s" x="128" y="655" font-size="12">open source software</text></g>
<g id="n-crowdsourcing"><circle class="r" cx="173" cy="668" r="6"/><text class="s" x="172" y="672" font-size="12">crowdsourcing</text></g>
<g id="n-innovation-management"><circle class="r" cx="253" cy="450" r="6"/><text class="s" x="245" y="455" font-size="11">innovation management</text></g>
<g id="n-dynamics"><circle class="b" cx="160" cy="292" r="6"/><text class="s" x="156" y="296" font-size="10">dynamics</text></g>
<g id="n-knowledge-acquisition"><circle class="g" cx="782" cy="427" r="5"/><text class="s" x="780" y="431" font-size="11">knowledge acquisition</text></g>
<g id="n-develop"><circle class="r" cx="36" cy="493" r="5"/><text class="s" x="34" y="497" font-size="10">develop</text></g>
<g id="n-co-creation"><circle class="r" cx="40" cy="435" r="5"/><text class="s" x="40" y="439" font-size="10">co-creation</text></g>
<g id="n-r-and-d"><circle class="r" cx="568" cy="245" r="5"/><text class="s" x="571" y="249" font-size="10">r&amp;d</text></g>
<g id="n-pharmaceutical-industry"><circle class="g" cx="875" cy="548" r="5"/><text class="s" x="866" y="555" font-size="11">pharmaceutical industry</text></g>
<g id="n-financial-performance"><circle class="g" cx="856" cy="268" r="5"/><text class="s" x="851" y="271" font-size="11">financial performance</text></g>
<g id="n-collaborative-innovation"><circle class="r" cx="503" cy="812" r="5"/><text class="s" x="499" y="815" font-size="11">collaborative innovation</text></g>
<g id="n-ecosystems"><circle class="r" cx="308" cy="788" r="4"/><text class="s" x="308" y="791" font-size="10">ecosystems</text></g>
<g id="n-sustainability"><circle class="r" cx="283" cy="762" r="4"/><text class="s" x="284" y="765" font-size="9">sustainability</text></g>
<g id="n-exploration"><circle class="g" cx="790" cy="524" r="4"/><text class="s" x="802" y="527" font-size="10">exploration</text></g>
<g id="n-medium-sized-enterprises"><circle class="g" cx="665" cy="86" r="4"/><text class="s" x="666" y="90" font-size="10">medium-sized enterprises</text></g>
<g id="n-universities"><circle class="b" cx="640" cy="133" r="4"/><text class="s" x="643" y="136" font-size="9">universities</text></g>
<g id="n-orientation"><circle class="b" cx="548" cy="42" r="3" opacity=".5"/><text class="s" x="548" y="45" font-size="9">orientation</text></g>
<g id="n-startups"><circle class="b" cx="356" cy="49" r="4"/><text class="s" x="359" y="54" font-size="10">startups</text></g>
<g id="n-creativity"><circle class="b" cx="262" cy="134" r="4"/><text class="s" x="262" y="137" font-size="9">creativity</text></g>
<g id="n-trust"><circle class="b" cx="528" cy="290" r="4"/><text class="s" x="528" y="289" font-size="8">trust</text></g>
<g id="n-information"><circle class="r" cx="118" cy="492" r="4"/><text class="s" x="135" y="496" font-size="9">information</text></g>
<g id="n-commercialization"><circle class="b" cx="172" cy="419" r="4"/><text class="s" x="175" y="423" font-size="10">commercialization</text></g>
<g id="n-social-networks"><circle class="b" cx="76" cy="388" r="4"/><text class="s" x="74" y="391" font-size="11">social networks</text></g>
<g id="n-services"><circle class="r" cx="88" cy="350" r="4"/><text class="s" x="89" y="353" font-size="8">services</text></g>
<g id="n-competition"><circle class="r" cx="121" cy="325" r="3"/><text class="s" x="121" y="329" font-size="10">competition</text></g>
<g id="n-field"><circle class="r" cx="90" cy="293" r="4"/><text class="s" x="90" y="297" font-size="9">field</text></g>
<g id="n-agenda"><circle class="r" cx="34" cy="363" r="3"/><text class="s" x="37" y="367" font-size="9">agenda</text></g>
<g id="n-open-source"><circle class="r" cx="90" cy="700" r="4"/><text class="s" x="90" y="703" font-size="10">open source</text></g>
<g id="n-managerialism"><circle class="g" cx="872" cy="610" r="3"/><text class="s" x="872" y="613" font-size="10">managerialism</text></g>
<g id="n-cities"><text class="s" x="138" y="703" font-size="10">cities</text></g>
<g id="n-growth"><text class="s" x="273" y="55" font-size="10">growth</text></g>
<g id="n-internationalization"><text class="s" x="418" y="21" font-size="9">internationalization</text></g>
<g id="n-complementarity"><text class="s" x="460" y="57" font-size="10">complementarity</text></g>
<g id="n-open-innovation-practices"><text class="s" x="321" y="81" font-size="10">open innovation practices</text></g>
<g id="n-patterns"><text class="s" x="285" y="103" font-size="10">patterns</text></g>
<g id="n-ideas"><text class="s" x="166" y="217" font-size="9">ideas</text></g>
<g id="n-suppliers"><text class="s" x="233" y="272" font-size="9">suppliers</text></g>
<g id="n-survey"><text class="s" x="360" y="269" font-size="9">survey</text></g>
<g id="n-china"><text class="s" x="685" y="123" font-size="9">china</text></g>
<g id="n-joint-ventures"><text class="s" x="554" y="177" font-size="10">joint ventures</text></g>
<g id="n-uk"><text class="s" x="601" y="249" font-size="8">uk</text></g>
<g id="n-investment"><text class="s" x="568" y="284" font-size="9">investment</text></g>
<g id="n-embeddedness"><text class="s" x="540" y="313" font-size="9">embeddedness</text></g>
<g id="n-trends"><text class="s" x="421" y="377" font-size="8">trends</text></g>
<g id="n-knowledge-flows"><text class="s" x="900" y="300" font-size="10">knowledge flows</text></g>
<g id="n-food-industry"><text class="s" x="599" y="527" font-size="10">food industry</text></g>
<g id="n-development-cooperation"><text class="s" x="740" y="552" font-size="10">development cooperation</text></g>
<g id="n-entrepreneurial-orientation"><text class="s" x="646" y="572" font-size="10">entrepreneurial orientation</text></g>
<g id="n-strategic-management"><text class="s" x="715" y="627" font-size="10">strategic management</text></g>
<g id="n-local-search"><text class="s" x="808" y="692" font-size="10">local search</text></g>
<g id="n-advantage"><text class="s" x="525" y="692" font-size="9">advantage</text></g>
<g id="n-malaysia"><text class="s" x="536" y="775" font-size="9">malaysia</text></g>
<g id="n-resources"><text class="s" x="613" y="796" font-size="10">resources</text></g>
<g id="n-intermediation"><text class="s" x="459" y="794" font-size="10">intermediation</text></g>
<g id="n-decision-making"><text class="s" x="396" y="745" font-size="10">decision-making</text></g>
<g id="n-design"><text class="s" x="228" y="758" font-size="10">design</text></g>
<g id="n-incentives"><text class="s" x="253" y="798" font-size="10">incentives</text></g>
<g id="n-economics"><text class="s" x="180" y="727" font-size="10">economics</text></g>
<g id="n-toolkits"><text class="s" x="66" y="538" font-size="9">toolkits</text></g>
<g id="n-clusters"><text class="s" x="140" y="538" font-size="9">clusters</text></g>
<g id="n-service-innovation"><text class="s" x="226" y="538" font-size="10">service innovation</text></g>
</svg>
